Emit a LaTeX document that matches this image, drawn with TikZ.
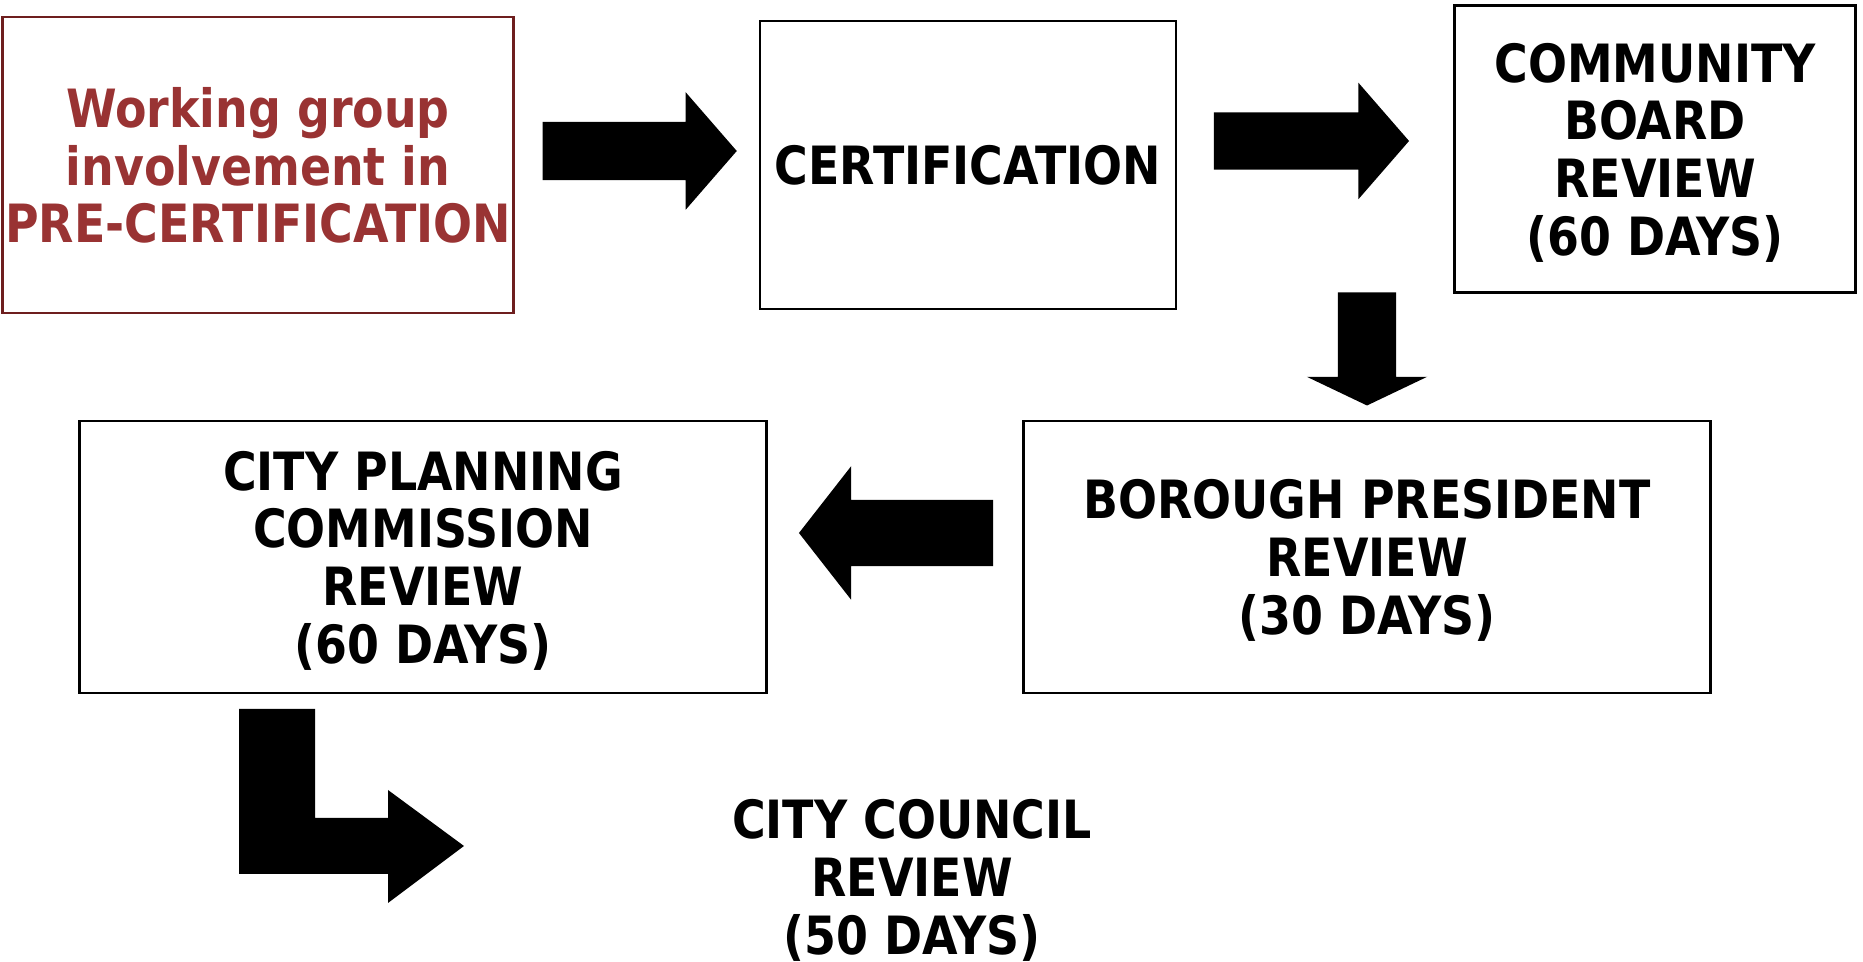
\documentclass[tikz,border=0pt]{standalone}
\usepackage{fontspec}
\setmainfont{DejaVu Sans}[FakeStretch=0.87]
\usetikzlibrary{shapes.arrows}

\definecolor{precertred}{RGB}{153,51,51}
\definecolor{precertline}{RGB}{110,30,30}

\tikzset{
  stagebox/.style = {draw, line width=0.7pt, inner sep=0pt, align=center, text depth=0pt,
                     font=\fontsize{15pt}{16.4pt}\selectfont\bfseries},
  blockarrow/.style = {single arrow, fill=black, draw=none, inner xsep=0pt,
                       text height=0pt, text depth=0pt, text width=0pt},
}

\begin{document}
\begin{tikzpicture}[x=0.01cm, y=-0.01cm]
\useasboundingbox (0,0) rectangle (1863,962);

% top row
\node[stagebox, draw=precertline, text=precertred, minimum width=5.11cm, minimum height=2.96cm] (precert) at (258,165)
  {Working group\\involvement in\\PRE-CERTIFICATION} ;
\node[stagebox, minimum width=4.16cm, minimum height=2.88cm] (cert) at (968,165) {CERTIFICATION} ;
\node[stagebox, minimum width=4.01cm, minimum height=2.87cm] (cboard) at (1655,149)
  {COMMUNITY\\BOARD\\REVIEW\\(60 DAYS)} ;

% middle row
\node[stagebox, minimum width=6.87cm, minimum height=2.72cm] (bpres) at (1367,557)
  {BOROUGH PRESIDENT\\REVIEW\\(30 DAYS)} ;
\node[stagebox, minimum width=6.87cm, minimum height=2.72cm] (cpc) at (423,557)
  {CITY PLANNING\\COMMISSION\\REVIEW\\(60 DAYS)} ;

% last step, no box
\node[stagebox, draw=none] (council) at (912,877) {CITY COUNCIL\\REVIEW\\(50 DAYS)} ;

% block arrows
\node[blockarrow, minimum height=1.94cm, inner ysep=0.285cm, single arrow head extend=0.295cm,
      single arrow tip angle=98] (arrA) at (627,151) {} ;
\node[blockarrow, minimum height=1.95cm, inner ysep=0.28cm, single arrow head extend=0.295cm,
      single arrow tip angle=98] (arrB) at (1299,141) {} ;
\node[blockarrow, minimum height=1.13cm, inner xsep=0.285cm, inner ysep=0pt, single arrow head extend=0.31cm,
      single arrow tip angle=129, shape border rotate=270] (arrC) at (1367,342) {} ;
\node[blockarrow, minimum height=1.94cm, inner ysep=0.325cm, single arrow head extend=0.335cm,
      single arrow tip angle=104, shape border rotate=180] (arrD) at (909,533) {} ;

% bent arrow down to the council
\coordinate (bendtop) at (239,709) ;
\fill (bendtop) -- ++(76,0) -- ++(0,109) -- ++(73,0) -- ++(0,-28) -- ++(76,56)
  -- ++(-76,57) -- ++(0,-29) -- ++(-149,0) -- cycle ;

\end{tikzpicture}
\end{document}
